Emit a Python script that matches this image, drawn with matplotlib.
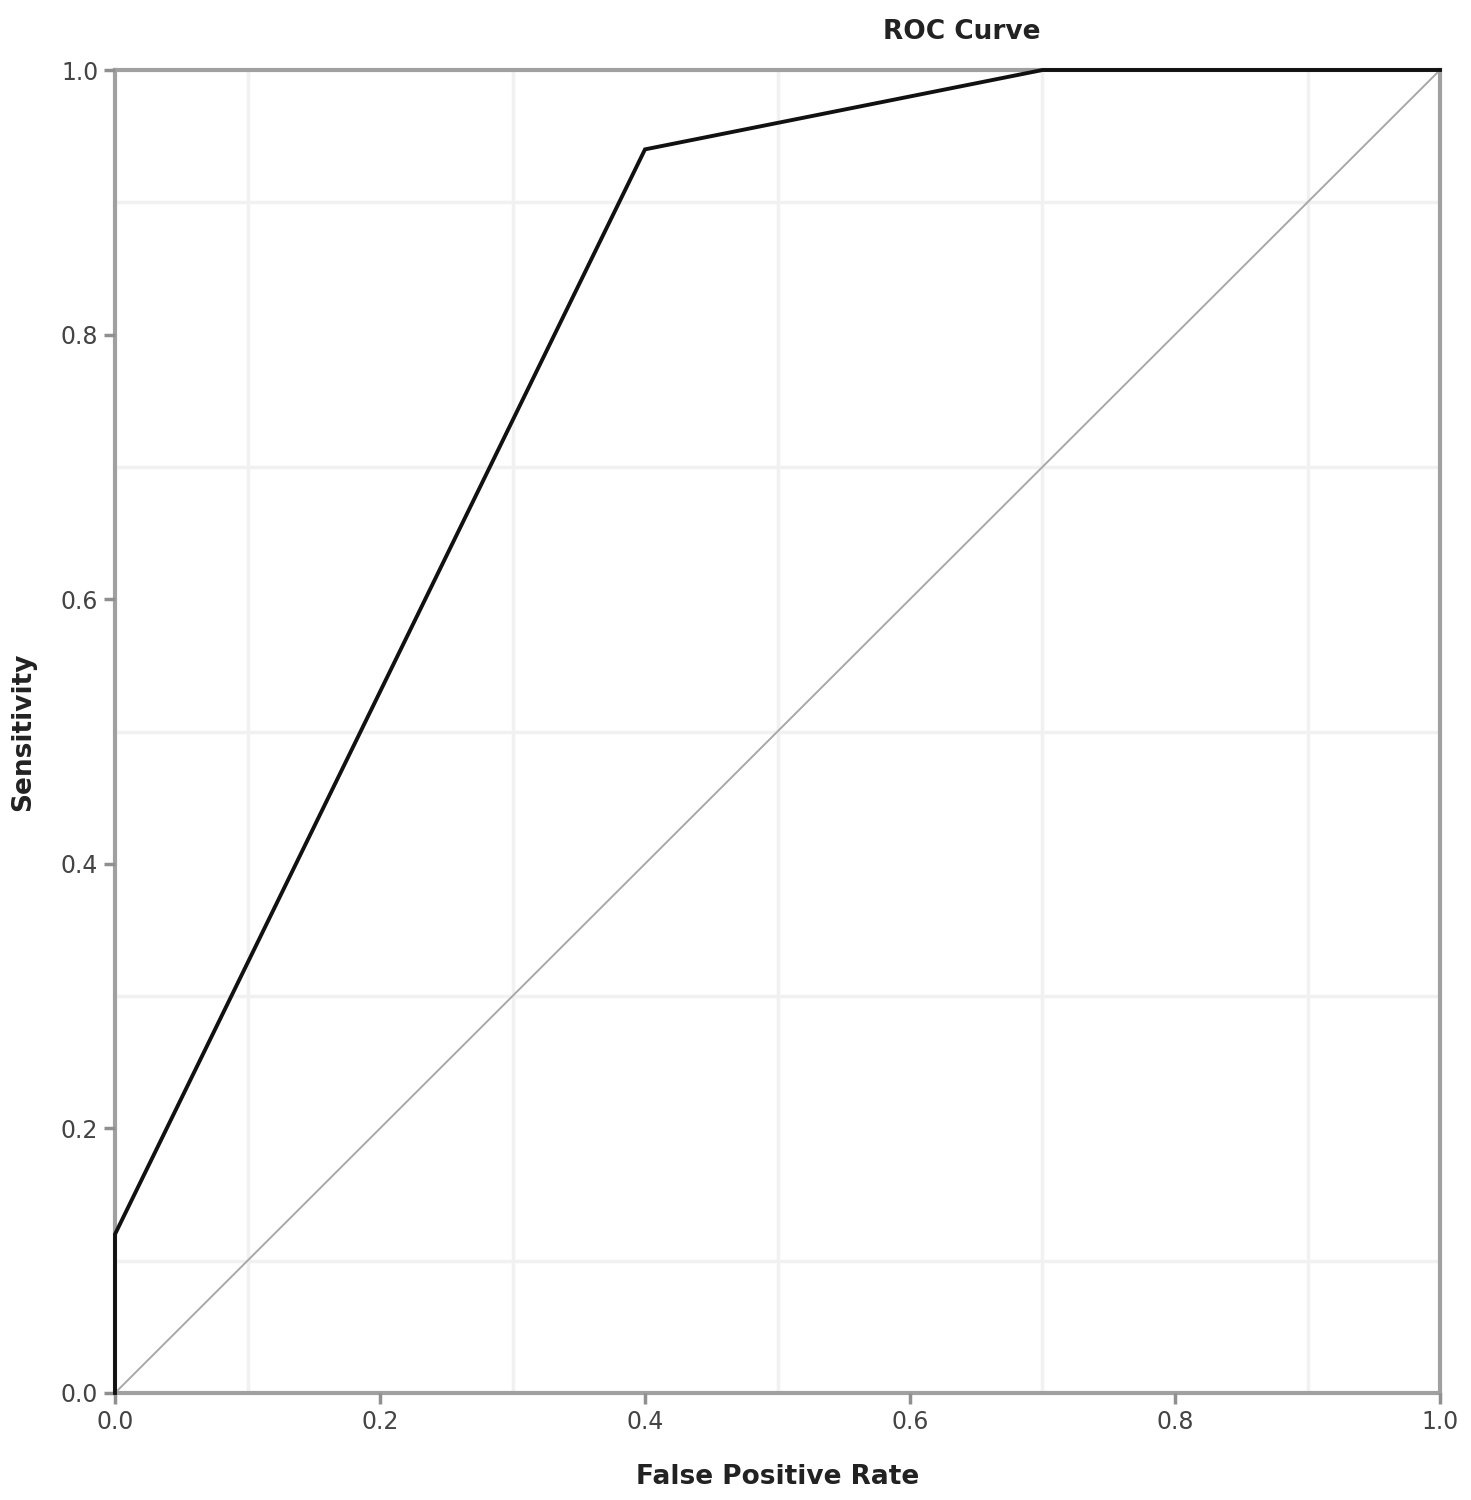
import matplotlib
matplotlib.use("Agg")
import matplotlib.pyplot as plt

# ROC curve points
fpr = [0.0, 0.0, 0.4, 0.7, 1.0]
tpr = [0.0, 0.12, 0.94, 1.0, 1.0]
ref = [0.0, 1.0]

major_ticks = [0.0, 0.2, 0.4, 0.6, 0.8, 1.0]
grid_lines = [0.1, 0.3, 0.5, 0.7, 0.9]

plt.rcParams['font.family'] = ['DejaVu Sans']

fig = plt.figure(figsize=(14.71, 15), dpi=100)
ax = fig.add_axes([115 / 1471, 107 / 1500, 1325 / 1471, 1323 / 1500])

# light grid only at the odd tenths
for g in grid_lines:
    ax.axvline(g, color='#f1f1f1', lw=2.5, zorder=0)
    ax.axhline(g, color='#f1f1f1', lw=2.5, zorder=0)

ax.plot(ref, ref, color='#a8a8a8', lw=1.4, zorder=2)
ax.plot(fpr, tpr, color='#111111', lw=2.8, zorder=3, clip_on=False,
        solid_joinstyle='miter')

ax.set_xlim(0, 1)
ax.set_ylim(0, 1)
ax.set_xticks(major_ticks)
ax.set_yticks(major_ticks)
ax.set_xticklabels([f"{t:.1f}" for t in major_ticks])
ax.set_yticklabels([f"{t:.1f}" for t in major_ticks])

for s in ax.spines.values():
    s.set_color('#a0a0a0')
    s.set_linewidth(3)
    s.set_zorder(1)

ax.tick_params(axis='both', direction='out', length=8, width=2.5,
               color='#909090', labelcolor='#444444', labelsize=17, pad=4)

ax.set_xlabel('False Positive Rate', fontsize=19, fontweight='bold',
              color='#222222', labelpad=22)
ax.set_ylabel('Sensitivity', fontsize=19, fontweight='bold',
              color='#222222', labelpad=18)

fig.text(962 / 1471, 1 - 32 / 1500, 'ROC Curve', fontsize=19,
         fontweight='bold', color='#222222', ha='center', va='center')

fig.savefig('out.png', dpi=100, facecolor='white')
